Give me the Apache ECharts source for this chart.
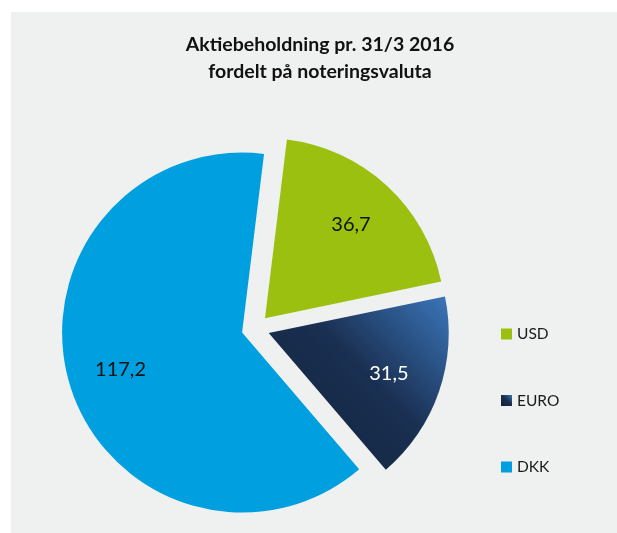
<!DOCTYPE html>
<html>
<head>
<meta charset="utf-8">
<script src="https://cdn.jsdelivr.net/npm/echarts@6/dist/echarts.min.js"></script>
<style>
  html, body { margin: 0; padding: 0; background: #fff; overflow: hidden; }
  .backdrop { position: absolute; left: 11px; top: 12px; width: 700px; height: 700px; background: #eff1f0; }
  #chart { position: absolute; left: 0; top: 0; width: 617px; height: 533px; }
</style>
</head>
<body>
<div class="backdrop"></div>
<div id="chart"></div>
<script>
// data
const categories = ['USD', 'EURO', 'DKK']
const values = [36.7, 31.5, 117.2]
const titleLines = ['Aktiebeholdning pr. 31/3 2016', 'fordelt på noteringsvaluta']

const euroGradient = new echarts.graphic.LinearGradient(0, 1, 1, 0, [
  { offset: 0, color: '#101f38' },
  { offset: 0.55, color: '#1a3052' },
  { offset: 1, color: '#3b76ba' }
])
const sliceColors = ['#9bc00f', euroGradient, '#009fe0']
const labelColors = ['#111111', '#ffffff', '#111111']

const fmt = v => String(v).replace('.', ',')

const center = [255.5, 328.5]
const offset = 14

const slices = categories.map((name, i) => ({
  name,
  value: values[i],
  selected: true,
  itemStyle: { color: sliceColors[i] }
}))

// invisible copy only used to place the value labels further out
const labelSlices = categories.map((name, i) => ({
  name,
  value: values[i],
  selected: true,
  label: { color: labelColors[i] }
}))

const chart = echarts.init(document.getElementById('chart'))
chart.setOption({
  animation: false,
  backgroundColor: 'transparent',
  title: {
    text: titleLines.join('\n'),
    left: 320,
    top: 31,
    padding: 0,
    textAlign: 'center',
    textStyle: {
      fontFamily: 'Lato',
      fontWeight: 'bold',
      fontSize: 19.5,
      lineHeight: 27,
      color: '#111'
    }
  },
  legend: {
    orient: 'vertical',
    left: 501,
    top: 326,
    padding: 0,
    itemWidth: 11,
    itemHeight: 11,
    itemGap: 50.5,
    icon: 'rect',
    selectedMode: false,
    data: categories,
    textStyle: { fontFamily: 'Lato', fontSize: 15.5, lineHeight: 16, color: '#1a1a1a' }
  },
  series: [
    {
      type: 'pie',
      center,
      radius: [0, 180],
      startAngle: 83,
      selectedMode: 'multiple',
      selectedOffset: offset,
      label: { show: false },
      labelLine: { show: false },
      emphasis: { disabled: true },
      select: { itemStyle: {} },
      silent: true,
      data: slices
    },
    {
      type: 'pie',
      center,
      radius: [68, 180],
      startAngle: 83,
      selectedMode: 'multiple',
      selectedOffset: offset,
      itemStyle: { color: 'rgba(0,0,0,0)' },
      select: { itemStyle: { color: 'rgba(0,0,0,0)' } },
      emphasis: { disabled: true },
      silent: true,
      label: {
        show: true,
        position: 'inside',
        fontFamily: 'Lato',
        fontSize: 20,
        formatter: p => fmt(p.value)
      },
      labelLine: { show: false },
      data: labelSlices
    }
  ]
})
</script>
</body>
</html>
